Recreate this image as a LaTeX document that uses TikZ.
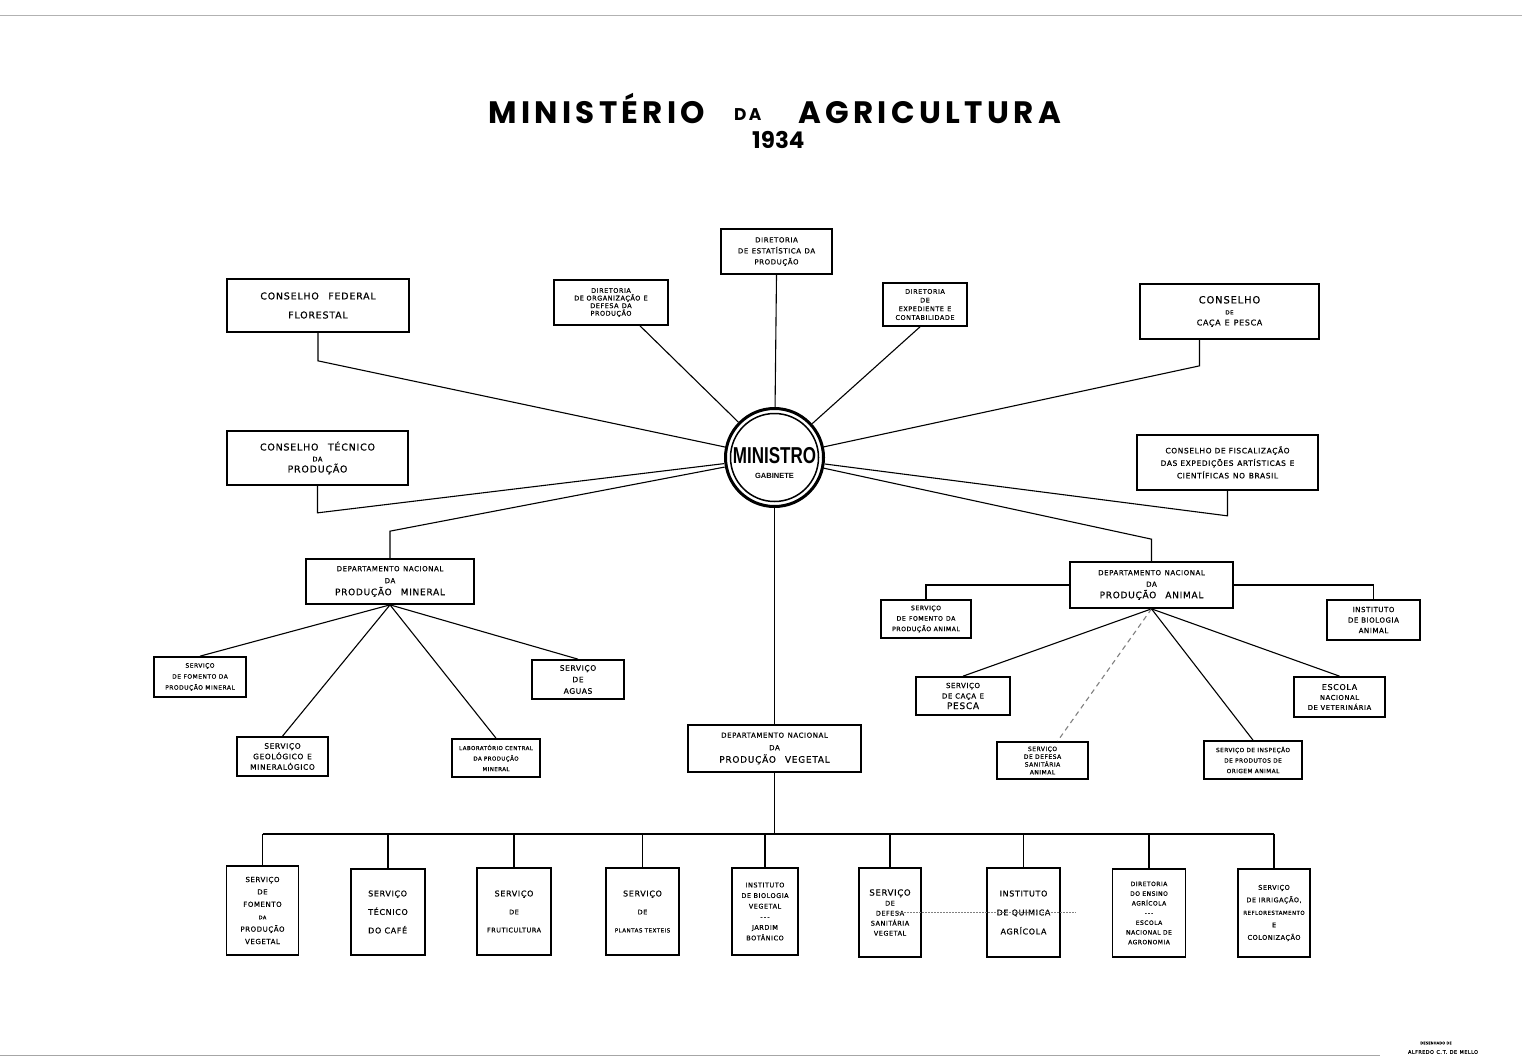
\documentclass[tikz,border=0pt]{standalone}
\usepackage{fontspec}
\setmainfont{DejaVu Sans}[LetterSpace=8, FakeBold=0.4]
\newfontfamily\titlefont{Poppins}[LetterSpace=14]
\newfontfamily\yearfont{Poppins}
\newfontfamily\minfont{Liberation Sans}
\newcommand\myfs[2]{\fontsize{#1}{#2}\selectfont}
\begin{document}
\begin{tikzpicture}[x=1pt,y=-1pt,
  box/.style 2 args={draw, line width=1.7pt, align=center, inner sep=0pt, minimum width=#1, minimum height=#2},
  conn/.style={line width=1.1pt},
  ttl/.style={anchor=base west, inner sep=0pt}]
\fill[white] (0,0) rectangle (1522,1060);
\useasboundingbox (0,0) rectangle (1522,1060);
\draw[gray!60, line width=0.8pt] (0,15) -- (1522,15);
\draw[gray!70, line width=1pt] (0,1055) -- (1380,1055);

% title
\node[ttl, font=\titlefont\bfseries\myfs{31}{31}] (tMin) at (488,123) {MINISTÉRIO};
\node[ttl, font=\titlefont\bfseries\myfs{17}{17}] (tDa) at (734,120) {DA};
\node[ttl, font=\titlefont\bfseries\myfs{31}{31}] (tAgr) at (798,123) {AGRICULTURA};
\node[ttl, font=\yearfont\bfseries\myfs{23}{23}] (tYear) at (752,148) {1934};

% ministro
\node[circle, minimum size=101pt, inner sep=0pt] (min) at (774.5,457.5) {};
\draw[line width=3pt] (min.center) circle (49pt);
\draw[line width=1.5pt] (min.center) circle (44pt);
\node[font=\minfont\bfseries\myfs{23}{23}, inner sep=0pt] (minT) at (774.5,456) {\scalebox{0.74}[1]{MINISTRO}};
\node[font=\minfont\bfseries\myfs{7.5}{8}, inner sep=0pt] (minG) at (774.5,476) {GABINETE};

% top boxes
\node[box={182}{53}, font=\myfs{9.5}{10}] (cff) at (318,305.5) {CONSELHO\quad FEDERAL\\[9pt]FLORESTAL};
\node[box={114}{45}, font=\myfs{6.5}{7.6}] (dorg) at (611,302.5) {DIRETORIA\\DE ORGANIZAÇÃO\enspace E\\DEFESA\enspace DA\\PRODUÇÃO};
\node[box={111}{45}, font=\myfs{7}{11}] (dest) at (776.5,251.5) {DIRETORIA\\DE\enspace ESTATÍSTICA\enspace DA\\PRODUÇÃO};
\node[box={84}{43}, font=\myfs{6.5}{8.7}] (dexp) at (925,304.5) {DIRETORIA\\DE\\EXPEDIENTE\enspace E\\CONTABILIDADE};
\node[box={179}{55}, font=\myfs{8}{11}] (ccp) at (1229.5,311.5) {{\myfs{10}{11}CONSELHO}\\{\myfs{5.5}{6}DE}\\CAÇA\enspace E\enspace PESCA};
\node[box={181}{54}, font=\myfs{9.5}{11}] (ctp) at (317.5,458) {CONSELHO\quad TÉCNICO\\{\myfs{6.5}{8}DA}\\PRODUÇÃO};
\node[box={181}{55}, font=\myfs{7.5}{12.5}] (cfe) at (1227.5,462.5) {CONSELHO DE FISCALIZAÇÃO\\DAS EXPEDIÇÕES\enspace ARTÍSTICAS\enspace E\\CIENTÍFICAS\enspace NO\enspace BRASIL};

% mineral
\node[box={168}{45}, font=\myfs{7}{12}] (dmin) at (390,581.5) {DEPARTAMENTO\enspace NACIONAL\\DA\\{\myfs{9}{12}PRODUÇÃO\quad MINERAL}};
\node[box={92}{40}, font=\myfs{6}{11}] (sfm) at (200,677) {SERVIÇO\\DE FOMENTO DA\\PRODUÇÃO MINERAL};
\node[box={91}{39}, font=\myfs{7.5}{10.5}] (sgm) at (282.5,756.5) {SERVIÇO\\GEOLÓGICO\enspace E\\MINERALÓGICO};
\node[box={88}{38}, font=\myfs{5.5}{10.5}] (lab) at (496,758) {LABORATÓRIO CENTRAL\\DA PRODUÇÃO\\MINERAL};
\node[box={92}{39}, font=\myfs{7.5}{11.5}] (sag) at (578,679.5) {SERVIÇO\\DE\\AGUAS};

% animal
\node[box={163}{46}, font=\myfs{7}{11.5}] (dan) at (1151.5,585) {DEPARTAMENTO\enspace NACIONAL\\DA\\{\myfs{9}{12}PRODUÇÃO\quad ANIMAL}};
\node[box={93}{40}, font=\myfs{7}{10.5}] (iba) at (1373.5,620) {INSTITUTO\\DE BIOLOGIA\\ANIMAL};
\node[box={90}{38}, font=\myfs{6.2}{10.5}] (sfa) at (926,619) {SERVIÇO\\DE\enspace FOMENTO\enspace DA\\PRODUÇÃO ANIMAL};
\node[box={94}{38}, font=\myfs{7}{10.5}] (scp) at (963,696) {SERVIÇO\\DE CAÇA\enspace E\\{\myfs{9}{10.5}PESCA}};
\node[box={91}{37}, font=\myfs{6}{7.8}] (sda) at (1042.5,760.5) {SERVIÇO\\DE DEFESA\\SANITÁRIA\\ANIMAL};
\node[box={98}{38}, font=\myfs{5.8}{10.5}] (sip) at (1253,760) {SERVIÇO DE INSPEÇÃO\\DE PRODUTOS DE\\ORIGEM ANIMAL};
\node[box={91}{40}, font=\myfs{6.8}{10}] (env) at (1339.5,697) {{\myfs{8}{10}ESCOLA}\\NACIONAL\\DE VETERINÁRIA};

% vegetal
\node[box={173}{47}, font=\myfs{7}{12.5}] (dveg) at (774.5,748.5) {DEPARTAMENTO\enspace NACIONAL\\DA\\{\myfs{9}{12}PRODUÇÃO\quad VEGETAL}};
\node[box={72}{89}, font=\myfs{7}{12.4}] (b1) at (262.5,910.5) {SERVIÇO\\DE\\FOMENTO\\{\myfs{5}{6}DA}\\PRODUÇÃO\\VEGETAL};
\node[box={74}{86}, font=\myfs{8}{18.5}, align=left] (b2) at (388,912) {SERVIÇO\\TÉCNICO\\DO CAFÉ};
\node[box={74}{87}, font=\myfs{8}{18}] (b3) at (514,911.5) {SERVIÇO\\{\myfs{6.5}{8}DE}\\{\myfs{6.5}{8}FRUTICULTURA}};
\node[box={73}{87}, font=\myfs{8}{18}] (b4) at (642.5,911.5) {SERVIÇO\\{\myfs{6.5}{8}DE}\\{\myfs{5.6}{8}PLANTAS TEXTEIS}};
\node[box={66}{87}, font=\myfs{6.5}{10.6}] (b5) at (765,911.5) {INSTITUTO\\DE BIOLOGIA\\VEGETAL\\-\,-\,-\\JARDIM\\BOTÂNICO};
\node[box={62}{89}, font=\myfs{6.5}{10}] (b6) at (890,912.5) {{\myfs{8.5}{10}SERVIÇO}\\DE\\DEFESA\\SANITÁRIA\\VEGETAL};
\node[box={73}{89}, font=\myfs{8}{19}] (b7) at (1023.5,912.5) {INSTITUTO\\DE QUIMICA\\AGRÍCOLA};
\node[box={73}{88}, font=\myfs{6}{9.7}] (b8) at (1149,913) {DIRETORIA\\DO ENSINO\\AGRÍCOLA\\-\,-\,-\\ESCOLA\\NACIONAL DE\\AGRONOMIA};
\node[box={72}{88}, font=\myfs{6.5}{12.5}] (b9) at (1274,913) {SERVIÇO\\DE IRRIGAÇÃO,\\{\myfs{5.5}{12.5}REFLORESTAMENTO}\\E\\COLONIZAÇÃO};

% signature
\node[font=\myfs{3.5}{4}, inner sep=0pt] (sig1) at (1436,1043) {DESENHADO DE};
\node[font=\myfs{5}{6}, inner sep=0pt] (sig2) at (1443,1052) {ALFREDO\enspace C.\,T.\enspace DE\enspace MELLO};

% connectors to ministro
\draw[conn] (cff.south) -- ++(0,28) -- (min);
\draw[conn] ([xshift=29pt]dorg.south) -- (min);
\draw[conn] (dest.south) -- (min);
\draw[conn] ([xshift=-5pt]dexp.south) -- (min);
\draw[conn] ([xshift=-30pt]ccp.south) -- ++(0,26) -- (min);
\draw[conn] (ctp.south) -- ++(0,27) -- (min);
\draw[conn] (cfe.south) -- ++(0,25) -- (min);
\draw[conn] (dmin.north) -- ++(0,-27) -- (min);
\draw[conn] (dan.north) -- ++(0,-22) -- (min);
\draw[conn] (min) -- (dveg);

% mineral connectors
\foreach \c in {sfm,sgm,lab,sag} \draw[conn] (dmin.south) -- (\c.north);

% animal connectors
\draw[conn] (dan.east) -| (iba.north);
\draw[conn] (dan.west) -| (sfa.north);
\draw[conn] (dan.south) -- (scp.north);
\draw[conn, gray, dash pattern=on 5pt off 4pt] (dan.south) -- ([xshift=15pt]sda.north);
\draw[conn] (dan.south) -- (sip.north);
\draw[conn] (dan.south) -- (env.north);

% vegetal bus
\coordinate (bus) at (0,834);
\draw[conn] (b1.north |- bus) -- (b9.north |- bus);
\draw[conn] (dveg.south) -- (dveg.south |- bus);
\foreach \i in {1,...,9} \draw[conn] (b\i.north) -- (b\i.north |- bus);
\draw[gray, line width=0.7pt, dash pattern=on 2pt off 1pt] ([xshift=5pt]b6.center) -- ([xshift=52pt]b7.center);
\end{tikzpicture}
\end{document}
